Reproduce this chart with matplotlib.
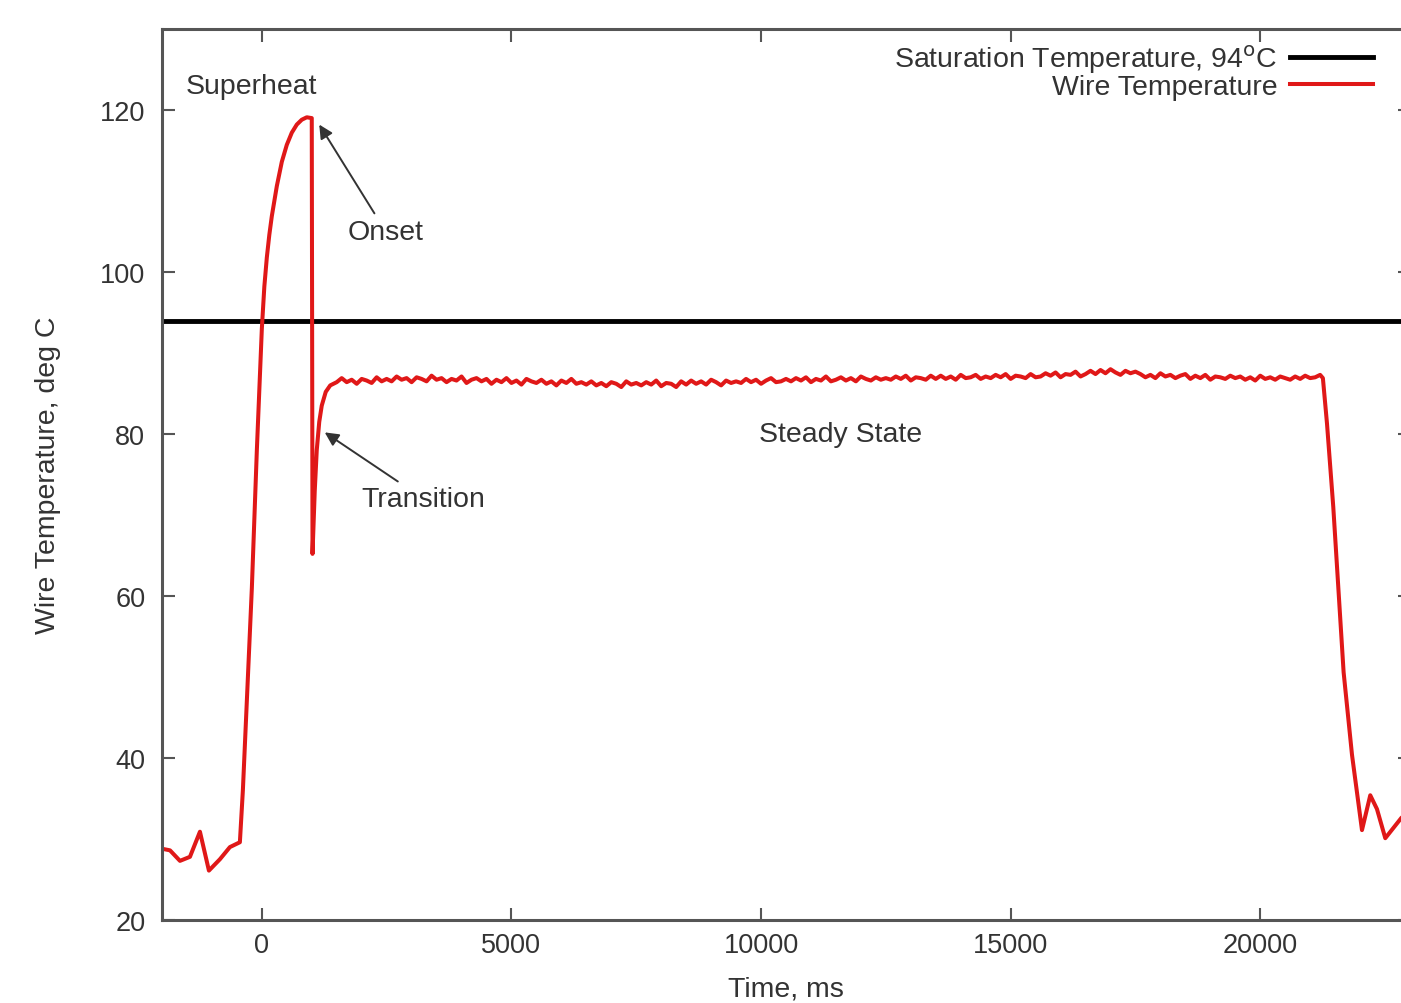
import numpy as np
import matplotlib.pyplot as plt

plt.rcParams['font.family'] = ['Liberation Sans', 'DejaVu Sans']

# saturation temperature (deg C)
t_sat = 94

# before heating starts (ms, deg C)
pre_t = [-2000, -1840, -1640, -1440, -1240, -1060, -840, -640, -440]
pre_T = [28.8, 28.6, 27.3, 27.8, 30.9, 26.1, 27.5, 29.0, 29.6]

# heating up to the superheat peak, then onset and transition
rise_t = [-380, -300, -200, -100, 0, 50, 100, 150, 200, 300, 400, 500, 600, 700,
          800, 900, 1000,
          1015, 1060, 1100, 1150, 1200, 1280, 1370, 1500]
rise_T = [36.0, 47.0, 61.0, 78.0, 93.0, 98.2, 101.8, 104.6, 106.9, 110.6, 113.6, 115.7,
          117.2, 118.2, 118.8, 119.1, 119.0,
          65.2, 73.0, 78.0, 81.5, 83.5, 85.2, 86.0, 86.4]

# steady state, sampled every 100 ms from 1600 to 21200 ms
steady_t = np.arange(1600, 21201, 100)
steady_T = [
    86.9, 86.4, 86.7, 86.2, 86.8, 86.6, 86.3, 87.0, 86.5, 86.8,
    86.5, 87.1, 86.7, 86.9, 86.4, 87.0, 86.8, 86.5, 87.2, 86.7,
    86.9, 86.4, 86.8, 86.6, 87.1, 86.3, 86.7, 86.9, 86.5, 86.8,
    86.2, 86.7, 86.4, 86.9, 86.3, 86.6, 86.1, 86.8, 86.5, 86.3,
    86.7, 86.2, 86.5, 86.0, 86.6, 86.3, 86.8, 86.2, 86.4, 86.1,
    86.5, 86.0, 86.3, 85.9, 86.4, 86.2, 85.8, 86.5, 86.1, 86.3,
    86.0, 86.4, 86.1, 86.6, 85.9, 86.3, 86.2, 85.8, 86.5, 86.1,
    86.6, 86.2, 86.5, 86.1, 86.7, 86.4, 86.0, 86.6, 86.3, 86.5,
    86.3, 86.8, 86.4, 86.7, 86.2, 86.6, 86.9, 86.4, 86.5, 86.8,
    86.5, 86.9, 86.6, 87.0, 86.4, 86.8, 86.6, 87.1, 86.5, 86.7,
    87.0, 86.6, 86.9, 86.5, 87.1, 86.8, 86.6, 87.0, 86.7, 86.9,
    86.7, 87.1, 86.8, 87.2, 86.6, 87.0, 86.9, 86.7, 87.2, 86.8,
    87.2, 86.8, 87.1, 86.7, 87.3, 86.9, 87.0, 87.3, 86.8, 87.1,
    86.9, 87.3, 87.0, 87.4, 86.8, 87.2, 87.1, 86.9, 87.4, 87.0,
    87.1, 87.5, 87.2, 87.6, 87.0, 87.4, 87.3, 87.7, 87.1, 87.4,
    87.8, 87.4, 87.9, 87.5, 88.0, 87.6, 87.3, 87.8, 87.5, 87.7,
    87.4, 87.0, 87.3, 86.9, 87.5, 87.1, 87.3, 86.9, 87.2, 87.4,
    86.8, 87.2, 86.9, 87.3, 86.7, 87.1, 87.0, 86.8, 87.2, 86.9,
    87.1, 86.7, 87.0, 86.6, 87.2, 86.8, 87.0, 86.7, 87.1, 86.9,
    86.7, 87.1, 86.8, 87.2, 86.9, 87.0, 87.3,
]

# heater off, cooling down
end_t = [21255, 21337, 21463, 21670, 21838, 22038, 22204, 22338, 22505, 22826, 23000]
end_T = [86.9, 81.3, 71.0, 50.6, 40.4, 31.1, 35.4, 33.7, 30.1, 32.6, 33.5]

time = np.concatenate([pre_t, rise_t, steady_t, end_t])
wire = np.concatenate([pre_T, rise_T, steady_T, end_T])

xticks = [0, 5000, 10000, 15000, 20000]
yticks = [20, 40, 60, 80, 100, 120]

txt = '#333333'
fs = 20.5
fig = plt.figure(figsize=(14.01, 10.04), dpi=100)
ax = fig.add_axes([162 / 1401, 83 / 1004, 1248 / 1401, 891 / 1004])

ax.axhline(t_sat, color='black', lw=3.5, label='Saturation Temperature, 94$^\\mathrm{o}$C')
ax.plot(time, wire, color='#e01818', lw=2.9, label='Wire Temperature')

ax.set_xlim(-2000, 23000)
ax.set_ylim(20, 130)
ax.set_xticks(xticks)
ax.set_yticks(yticks)
ax.tick_params(direction='in', length=9, width=1.5, color='#555555',
               top=True, right=True, labelsize=19.5, labelcolor=txt)
ax.tick_params(axis='x', pad=9)
ax.tick_params(axis='y', pad=12)
for s in ax.spines.values():
    s.set_color('#555555')
    s.set_linewidth(2.2)

ax.set_xlabel('Time, ms', fontsize=fs, color=txt, labelpad=12)
ax.set_ylabel('Wire Temperature, deg C', fontsize=fs, color=txt, labelpad=28)

ax.text(-1520, 123, 'Superheat', fontsize=fs, color=txt, va='center')
ax.annotate('Onset', xy=(1150, 118.2), xytext=(1720, 105), fontsize=fs, color=txt,
            va='center', arrowprops=dict(arrowstyle='-|>', color='#333333', lw=1.4,
                                         shrinkA=2, shrinkB=0))
ax.annotate('Transition', xy=(1260, 80.2), xytext=(2000, 72), fontsize=fs, color=txt,
            va='center', arrowprops=dict(arrowstyle='-|>', color='#333333', lw=1.4,
                                         shrinkA=2, shrinkB=0))
ax.text(11600, 80, 'Steady State', fontsize=fs, color=txt, ha='center', va='center')

leg = ax.legend(loc='upper right', bbox_to_anchor=(1373 / 1401, 960 / 1004),
                bbox_transform=fig.transFigure, frameon=False, markerfirst=False,
                fontsize=fs, handlelength=2.9, handletextpad=0.45, labelspacing=-0.05,
                borderpad=0, borderaxespad=0)
for t in leg.get_texts():
    t.set_color(txt)

fig.savefig('out.png', dpi=100)
